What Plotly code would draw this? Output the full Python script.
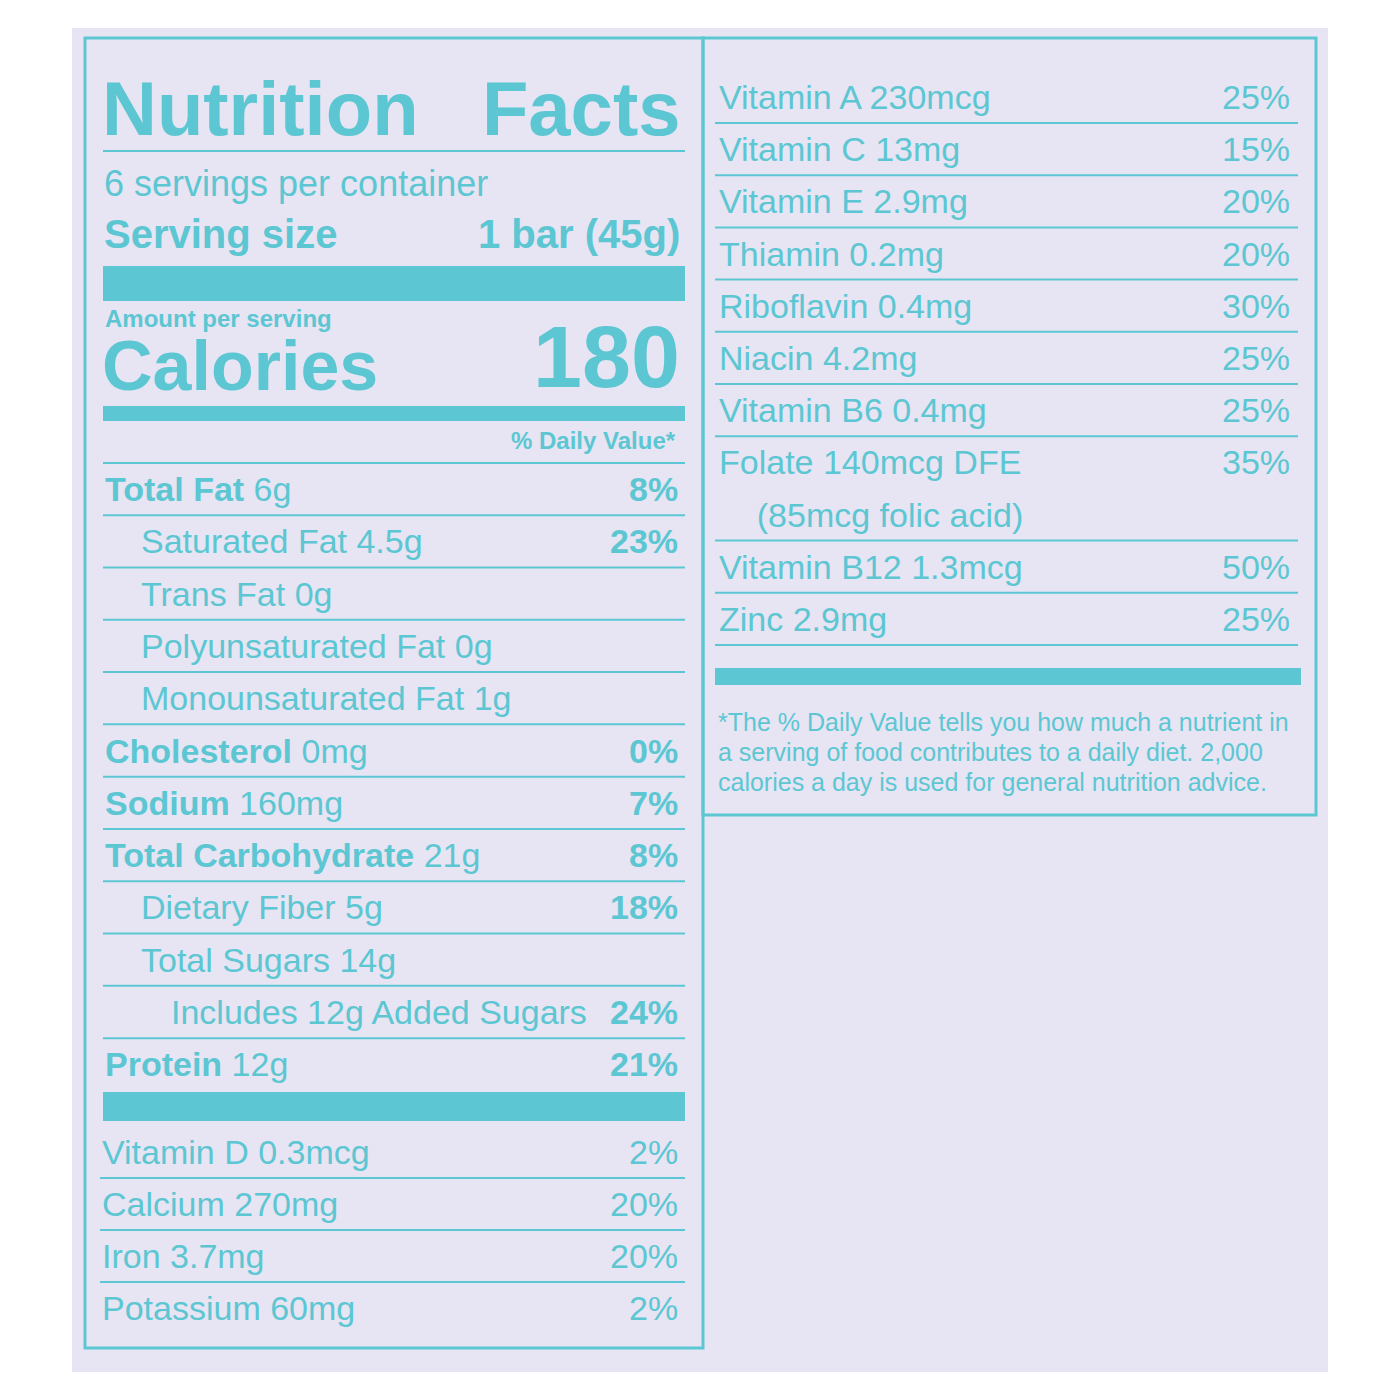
import plotly.graph_objects as go

TEAL = "#5cc7d2"
BG = "#e7e4f4"
FONT = "Liberation Sans"

# left panel rows: label (bold part), rest, indent level, percent, bold percent
main_bold = ["Total Fat", "", "", "", "", "Cholesterol", "Sodium", "Total Carbohydrate", "", "", "", "Protein"]
main_rest = [" 6g", "Saturated Fat 4.5g", "Trans Fat 0g", "Polyunsaturated Fat 0g", "Monounsaturated Fat 1g",
             " 0mg", " 160mg", " 21g", "Dietary Fiber 5g", "Total Sugars 14g", "Includes 12g Added Sugars", " 12g"]
main_indent = [0, 1, 1, 1, 1, 0, 0, 0, 1, 1, 2, 0]
main_pct = ["8%", "23%", "", "", "", "0%", "7%", "8%", "18%", "", "24%", "21%"]

minor_names = ["Vitamin D 0.3mcg", "Calcium 270mg", "Iron 3.7mg", "Potassium 60mg"]
minor_pct = ["2%", "20%", "20%", "2%"]

right_names = ["Vitamin A 230mcg", "Vitamin C 13mg", "Vitamin E 2.9mg", "Thiamin 0.2mg", "Riboflavin 0.4mg",
               "Niacin 4.2mg", "Vitamin B6 0.4mg", "Folate 140mcg DFE", "    (85mcg folic acid)",
               "Vitamin B12 1.3mcg", "Zinc 2.9mg"]
right_pct = ["25%", "15%", "20%", "20%", "30%", "25%", "25%", "35%", "", "50%", "25%"]

footnote = ["*The % Daily Value tells you how much a nutrient in",
            "a serving of food contributes to a daily diet. 2,000",
            "calories a day is used for general nutrition advice."]

fig = go.Figure()


def rect(x0, y0, x1, y1, fill=None, line=None):
    fig.add_shape(type="rect", x0=x0, y0=y0, x1=x1, y1=y1, layer="below",
                  fillcolor=fill if fill else "rgba(0,0,0,0)",
                  line=dict(color=line if line else "rgba(0,0,0,0)", width=3 if line else 0))


def hline(x0, x1, y, w=2):
    fig.add_shape(type="line", x0=x0, x1=x1, y0=y, y1=y, line=dict(color=TEAL, width=w))


def text(x, y, s, size, anchor="left", bold=False):
    if bold:
        s = "<b>" + s + "</b>"
    fig.add_annotation(x=x, y=y, text=s, showarrow=False, xanchor=anchor, yanchor="middle",
                       font=dict(family=FONT, size=size, color=TEAL))


# background and boxes
rect(72, 28, 1328, 1372, fill=BG)
rect(85, 38, 703, 1348, line=TEAL)
rect(703, 38, 1316, 815, line=TEAL)

# header
text(100, 108, "Nutrition   Facts", 76, bold=True)
hline(103, 685, 151)
text(102, 183, "6 servings per container", 36)
text(102, 234, "Serving size", 40, bold=True)
text(682, 234, "1 bar (45g)", 40, anchor="right", bold=True)
rect(103, 266, 685, 301, fill=TEAL)
text(103, 318, "Amount per serving", 24, bold=True)
text(100, 366, "Calories", 70, bold=True)
text(682, 356, "180", 88, anchor="right", bold=True)
rect(103, 406, 685, 421, fill=TEAL)
text(678, 440, "% Daily Value*", 24, anchor="right", bold=True)
hline(103, 685, 463)

# main nutrients
y0, dy = 489, 52.3
for i, (b, r) in enumerate(zip(main_bold, main_rest)):
    y = y0 + i * dy
    x = 103 + main_indent[i] * 36 + (main_indent[i] == 2) * (-6)
    s = ("<b>" + b + "</b>" if b else "") + r
    text(x, y, s, 34)
    if main_pct[i]:
        text(680, y, main_pct[i], 34, anchor="right", bold=True)
    if i < len(main_bold) - 1:
        hline(103, 685, y + dy / 2)
rect(103, 1092, 685, 1121, fill=TEAL)

for i, n in enumerate(minor_names):
    y = 1152 + i * 52
    text(100, y, n, 34)
    text(680, y, minor_pct[i], 34, anchor="right")
    if i < len(minor_names) - 1:
        hline(100, 685, y + 26)

# right panel
for i, n in enumerate(right_names):
    y = 97 + i * 52.2
    text(717, y, n, 34)
    if right_pct[i]:
        text(1292, y, right_pct[i], 34, anchor="right")
    if i < len(right_names) - 1 and i != 7:
        hline(715, 1298, y + 26)
hline(715, 1298, 645)
rect(715, 668, 1301, 685, fill=TEAL)
for i, f in enumerate(footnote):
    text(716, 722 + i * 30, f, 25)

fig.update_layout(
    width=1400, height=1400, margin=dict(l=0, r=0, t=0, b=0),
    xaxis=dict(range=[8, 1408], visible=False),
    yaxis=dict(range=[1408, 8], visible=False),
    plot_bgcolor="white", paper_bgcolor="white", showlegend=False,
)

fig.write_html("out.html")
